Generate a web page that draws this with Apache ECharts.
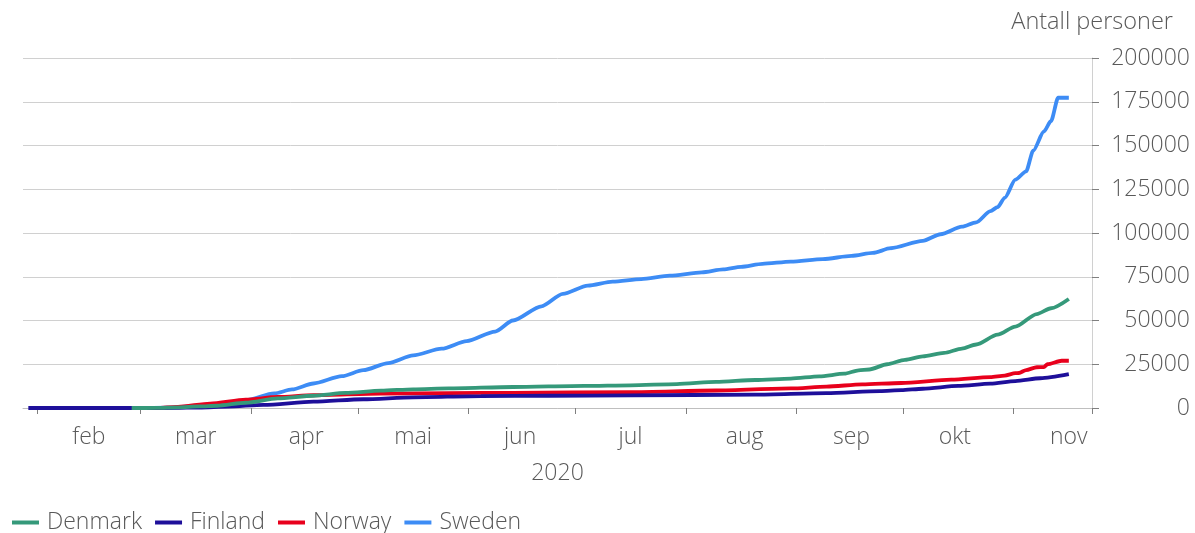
<!DOCTYPE html>
<html>
<head>
<meta charset="utf-8">
<script src="https://cdn.jsdelivr.net/npm/echarts@6/dist/echarts.min.js"></script>
<style>html,body{margin:0;padding:0;background:#fff}#c{width:1195px;height:533px}</style>
</head>
<body>
<div id="c"></div>
<script>
// ---- data ----
const firstDay = '2020-01-28';
const lastDay = '2020-11-22';
const monthLabels = ['feb', 'mar', 'apr', 'mai', 'jun', 'jul', 'aug', 'sep', 'okt', 'nov'];
const monthLabelDates = ['2020-02-15', '2020-03-16', '2020-04-16', '2020-05-16', '2020-06-15', '2020-07-16', '2020-08-17', '2020-09-16', '2020-10-15', '2020-11-16'];
const yearLabel = '2020';
const yTitle = 'Antall personer';
const seriesNames = ['Denmark', 'Finland', 'Norway', 'Sweden'];
const seriesColors = ['#35997a', '#1e0f9a', '#e8001c', '#3d8cf5'];

const denmark = [
  ['2020-02-27', 1], ['2020-03-05', 20], ['2020-03-11', 400], ['2020-03-17', 900],
  ['2020-03-22', 1300], ['2020-03-30', 3000], ['2020-04-08', 5500], ['2020-04-18', 7000],
  ['2020-04-27', 8600], ['2020-05-07', 9900], ['2020-05-16', 10700], ['2020-05-26', 11200],
  ['2020-06-13', 12000], ['2020-07-03', 12600], ['2020-07-16', 12950], ['2020-07-29', 13700],
  ['2020-08-09', 14900], ['2020-08-20', 16000], ['2020-08-30', 16800], ['2020-09-07', 18100],
  ['2020-09-14', 19600], ['2020-09-18', 21500], ['2020-09-21', 22000], ['2020-09-26', 25000],
  ['2020-10-01', 27500], ['2020-10-06', 29500], ['2020-10-12', 31500], ['2020-10-17', 33900],
  ['2020-10-21', 36300], ['2020-10-27', 41900], ['2020-11-01', 46500], ['2020-11-07', 53700],
  ['2020-11-11', 57000], ['2020-11-16', 62300]
];
const finland = [
  ['2020-01-29', 1], ['2020-02-29', 3], ['2020-03-10', 40], ['2020-03-17', 300],
  ['2020-03-25', 800], ['2020-04-04', 1800], ['2020-04-18', 3600], ['2020-05-02', 5000],
  ['2020-05-16', 6100], ['2020-06-04', 6800], ['2020-06-23', 7000], ['2020-07-16', 7250],
  ['2020-08-20', 7600], ['2020-09-09', 8500], ['2020-09-24', 9700], ['2020-09-30', 10200],
  ['2020-10-06', 11000], ['2020-10-16', 12600], ['2020-10-25', 13900], ['2020-11-01', 15400],
  ['2020-11-08', 17000], ['2020-11-16', 19300]
];
const norway = [
  ['2020-02-26', 1], ['2020-03-05', 60], ['2020-03-11', 700], ['2020-03-20', 2500],
  ['2020-03-30', 4800], ['2020-04-08', 6300], ['2020-04-18', 7300], ['2020-05-07', 8200],
  ['2020-05-26', 8500], ['2020-06-13', 8700], ['2020-07-16', 9100], ['2020-08-09', 10000],
  ['2020-08-30', 11200], ['2020-09-09', 12200], ['2020-09-19', 13500], ['2020-09-30', 14300],
  ['2020-10-14', 16200], ['2020-10-25', 17600], ['2020-10-29', 18500], ['2020-11-01', 19900],
  ['2020-11-02', 20000], ['2020-11-04', 21700], ['2020-11-07', 23300], ['2020-11-09', 23400],
  ['2020-11-10', 25000], ['2020-11-14', 27000], ['2020-11-16', 27000]
];
const sweden = [
  ['2020-01-31', 1], ['2020-02-29', 12], ['2020-03-08', 200], ['2020-03-14', 900],
  ['2020-03-22', 1800], ['2020-03-26', 2800], ['2020-03-30', 4500], ['2020-04-07', 8300],
  ['2020-04-12', 10600], ['2020-04-18', 14000], ['2020-04-26', 18200], ['2020-05-02', 21600],
  ['2020-05-09', 25700], ['2020-05-16', 30100], ['2020-05-24', 33900], ['2020-05-31', 38200],
  ['2020-06-08', 43700], ['2020-06-13', 50000], ['2020-06-21', 58100], ['2020-06-27', 65200],
  ['2020-07-04', 69900], ['2020-07-11', 72200], ['2020-07-19', 73700], ['2020-07-27', 75600],
  ['2020-08-05', 77500], ['2020-08-11', 79200], ['2020-08-16', 80700], ['2020-08-22', 82400],
  ['2020-08-30', 83700], ['2020-09-08', 85100], ['2020-09-16', 86900], ['2020-09-22', 88600],
  ['2020-09-27', 91300], ['2020-10-06', 95500], ['2020-10-11', 99300], ['2020-10-17', 103600],
  ['2020-10-21', 106100], ['2020-10-25', 112500], ['2020-10-27', 114800], ['2020-10-29', 120100],
  ['2020-11-01', 130500], ['2020-11-04', 135200], ['2020-11-06', 147000], ['2020-11-09', 158000],
  ['2020-11-11', 164000], ['2020-11-13', 177300], ['2020-11-16', 177300]
];

// ---- build ----
function buildDays(a, b) {
  const out = [];
  let t = Date.parse(a + 'T00:00:00Z');
  const end = Date.parse(b + 'T00:00:00Z');
  while (t <= end) { out.push(new Date(t).toISOString().slice(0, 10)); t += 86400000; }
  return out;
}
const days = buildDays(firstDay, lastDay);
const labelMap = new Map(monthLabelDates.map((d, i) => [d, monthLabels[i]]));
const FONT = '"Open Sans", "Noto Sans", sans-serif';
const TXT = '#595959';
const FS = 23;
const dataByName = { Denmark: denmark, Finland: finland, Norway: norway, Sweden: sweden };
const drawOrder = ['Sweden', 'Norway', 'Finland', 'Denmark'];

const chart = echarts.init(document.getElementById('c'), null, { renderer: 'canvas' });
chart.setOption({
  animation: false,
  backgroundColor: '#ffffff',
  textStyle: { fontFamily: FONT, fontWeight: 300, color: TXT },
  title: {
    text: yTitle, right: 17, top: 5,
    textStyle: { fontFamily: FONT, fontSize: 23.5, fontWeight: 300, color: TXT }
  },
  grid: { left: 23, right: 103, top: 58, bottom: 125, containLabel: false },
  legend: {
    data: seriesNames, left: 7, top: 506, icon: 'rect', itemWidth: 27, itemHeight: 4, itemGap: 13,
    textStyle: { fontFamily: FONT, fontSize: FS, fontWeight: 300, color: TXT, padding: [0, 0, 0, 3] }
  },
  xAxis: {
    type: 'category', data: days, boundaryGap: true,
    axisLine: { lineStyle: { color: '#bfbfbf', width: 1 } },
    axisTick: { show: true, interval: (i, v) => v.slice(8) === '01', length: 6, lineStyle: { color: '#7f7f7f' } },
    axisLabel: {
      interval: (i, v) => labelMap.has(v), formatter: v => labelMap.get(v) || '',
      margin: 18, fontSize: FS, fontWeight: 300, fontFamily: FONT, color: TXT
    },
    splitLine: { show: false },
    name: yearLabel, nameLocation: 'middle', nameGap: 54,
    nameTextStyle: { fontSize: FS, fontWeight: 300, fontFamily: FONT, color: TXT }
  },
  yAxis: {
    type: 'value', position: 'right', min: 0, max: 200000, interval: 25000,
    axisLine: { show: true, lineStyle: { color: '#d0d0d0' } },
    axisTick: { show: true, length: 7, lineStyle: { color: '#7f7f7f' } },
    axisLabel: { align: 'right', margin: 98, fontSize: FS, fontWeight: 300, fontFamily: FONT, color: TXT, formatter: v => String(v) },
    splitLine: { lineStyle: { color: '#d0d0d0', width: 1 } }
  },
  series: drawOrder.map(name => ({
    name, type: 'line', data: dataByName[name], showSymbol: false, symbol: 'none',
    smooth: 0.25, smoothMonotone: 'x',
    lineStyle: { width: 3.8, color: seriesColors[seriesNames.indexOf(name)] },
    itemStyle: { color: seriesColors[seriesNames.indexOf(name)] }
  }))
});
</script>
</body>
</html>
